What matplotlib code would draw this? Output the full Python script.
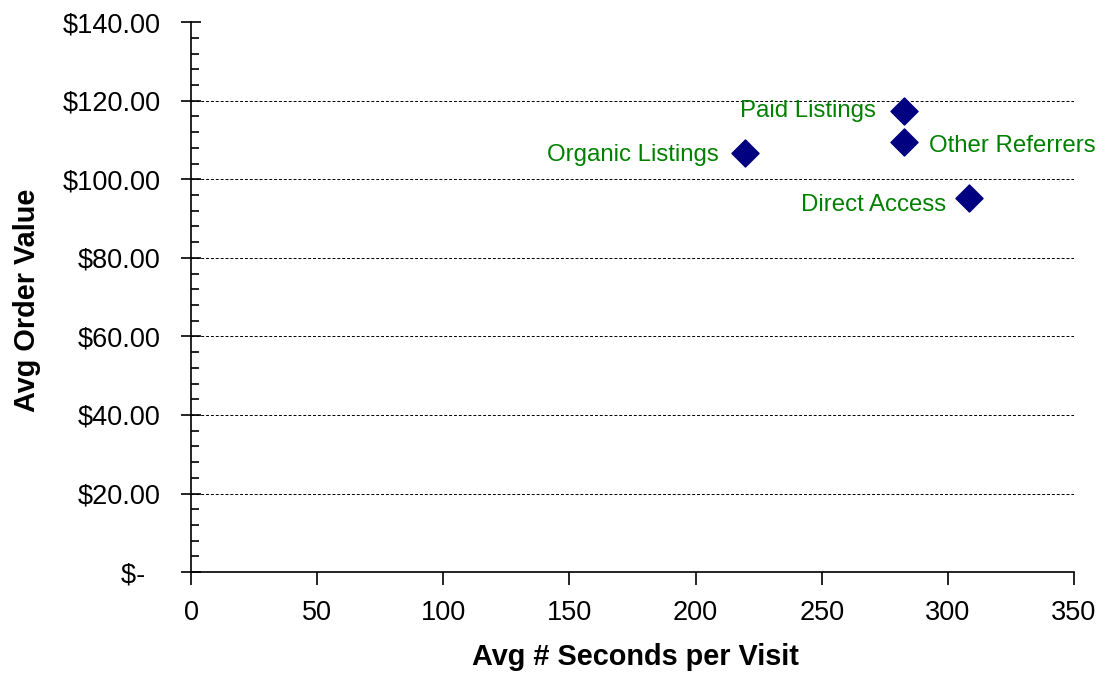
import matplotlib.pyplot as plt
from matplotlib.ticker import MultipleLocator, FuncFormatter

# Traffic sources: avg seconds per visit vs avg order value
sources = ['Organic Listings', 'Paid Listings', 'Other Referrers', 'Direct Access']
seconds = [219.5, 282.5, 282.5, 308.5]
order_value = [106.6, 117.4, 109.4, 95.3]

# label offsets (pixels) and alignment for each point
offsets = [(-26, -2), (-28, 0), (25, -4), (-23, -7)]
aligns = ['right', 'right', 'left', 'right']

plt.rcParams['font.family'] = ['Liberation Sans', 'DejaVu Sans']

fig = plt.figure(figsize=(11.01, 6.73), dpi=100)
ax = fig.add_axes([0.1735, 0.150, 0.802, 0.817])

ax.scatter(seconds, order_value, marker='D', s=190, color='#000080', zorder=3)

for name, x, y, off, ha in zip(sources, seconds, order_value, offsets, aligns):
    ax.annotate(name, (x, y), xytext=off, textcoords='offset pixels',
                ha=ha, va='center', color='#008000', fontsize=17.3)

ax.set_xlim(0, 350)
ax.set_ylim(0, 140)
ax.xaxis.set_major_locator(MultipleLocator(50))
ax.yaxis.set_major_locator(MultipleLocator(20))
ax.yaxis.set_minor_locator(MultipleLocator(4))

def money(v, pos):
    # accounting style: zero shows as a dash
    if abs(v) < 1e-9:
        return '$-  '
    return '${:,.2f}'.format(v)

ax.yaxis.set_major_formatter(FuncFormatter(money))

ax.grid(axis='y', which='major', linestyle=(0, (3, 2)), color='black', linewidth=0.7)
ax.set_axisbelow(True)
fig.canvas.draw()
# no gridline along the top edge
for line, val in zip(ax.yaxis.get_gridlines(), ax.get_yticks()):
    if val >= 140:
        line.set_visible(False)

for side in ['top', 'right']:
    ax.spines[side].set_visible(False)
for side in ['left', 'bottom']:
    ax.spines[side].set_linewidth(1.2)

ax.tick_params(axis='y', which='major', direction='inout', length=14, width=1.2,
               labelsize=19.5, pad=15)
ax.tick_params(axis='y', which='minor', direction='in', length=6, width=1.2)
ax.tick_params(axis='x', which='major', direction='out', length=9, width=1.2,
               labelsize=19.5, pad=11)

ax.set_xlabel('Avg # Seconds per Visit', fontsize=20.8, fontweight='bold', va='center')
ax.set_ylabel('Avg Order Value', fontsize=20.8, fontweight='bold', va='center')
ax.xaxis.set_label_coords(0.503, -0.1545)
ax.yaxis.set_label_coords(-0.1855, 0.4945)

plt.savefig('out.png', dpi=100)
